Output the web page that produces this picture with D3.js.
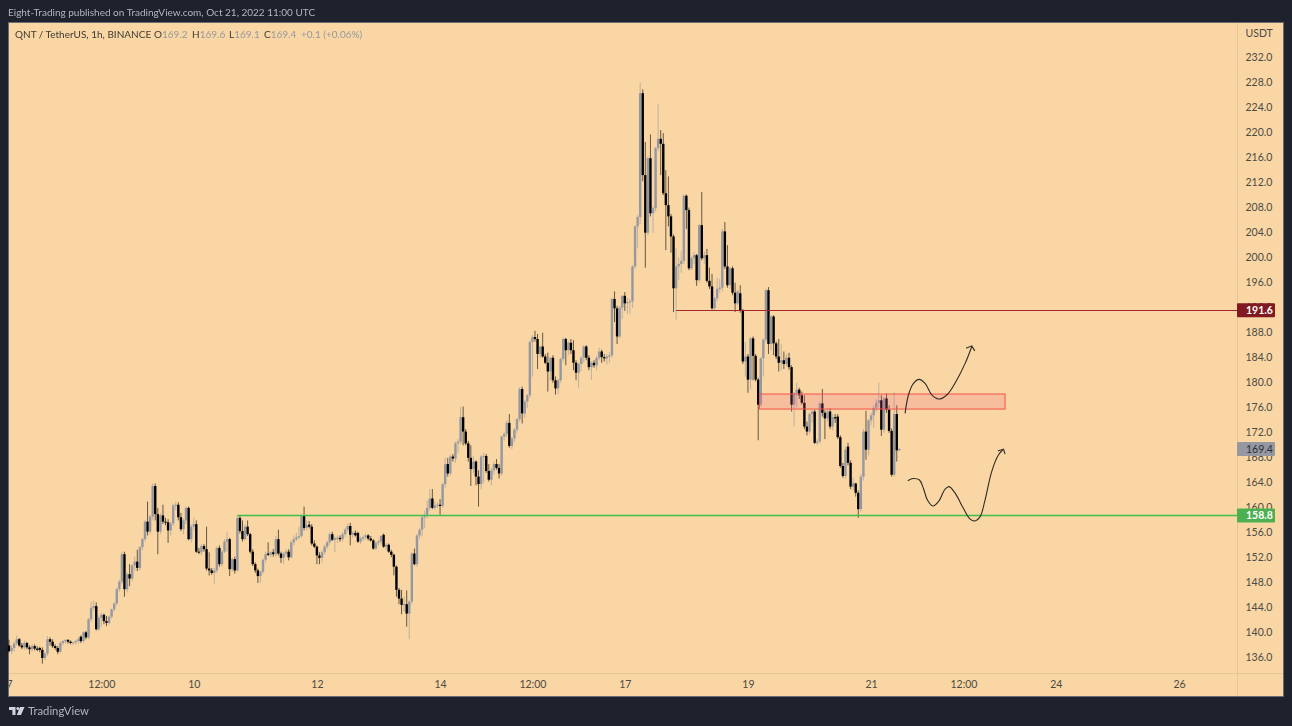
<!DOCTYPE html>
<html>
<head>
<meta charset="utf-8">
<script src="https://cdn.jsdelivr.net/npm/d3@7"></script>
<style>
html,body{margin:0;padding:0;background:#1e222d;overflow:hidden}
svg{filter:blur(.3px)}
text{font-family:Lato,sans-serif;font-size:10px}
</style>
</head>
<body>
<svg id="chart" width="1292" height="726"></svg>
<script>
// one value per hour, first bar is Oct 7 00:00
const opens = [
138,137.1,137.6,138.3,139,138,137.7,138.4,137.7,137.4,137.9,137.5,137.6,137.3,136,136.7,139,138.6,137.9,137.6,
137,138.4,138.7,138.9,138.6,138.4,138.5,138.7,139.4,138.7,140.1,139.3,142.2,144,144.3,140.6,142.4,142.9,141.9,141.6,
142.6,143.8,144.7,147,148.2,152.6,147,149.4,148.7,150.8,151.4,150.4,153.7,155,157.8,156.2,158.6,163.5,159,156.2,
158.8,157.8,157.7,156.4,157.5,160.4,160.5,158.5,156.6,158,160,155,157,157.4,153,152.9,153.9,153.4,150.3,150,
149.6,150,153.6,151,153,154.6,155,150.2,151.8,150,158.4,156.3,155,157,155.8,153,151,150,149.1,149.8,
151.7,152.7,152.5,152.9,152.6,155,152.7,152,152.7,153,152.1,154.5,155,155.3,155.5,158.7,156.8,157.3,157,154.3,
153.8,152.4,152,152.9,153.8,154.5,155.8,154.9,155.2,155.2,155,155.8,156.5,157.1,155.7,156,156,154.6,155.1,155.3,
155.6,155.1,154.8,153.5,154.4,154.6,155.7,153.8,154.1,153,152.5,150.6,146.9,145.5,144.5,144.6,143.1,145,152.7,151,
155.6,156.5,158.5,158.9,160,161.5,160,160.4,160.5,160.3,163.8,167,165.5,168.2,167.9,170.3,170.6,174.5,172.2,170.3,
168,166.2,167.4,165,163.8,168.2,168.3,165.9,164.5,166,167,166.4,165.5,171.4,171.8,173.6,169.9,171.1,172.5,174.2,
179,175.1,177,178,186.5,187.3,187,184.6,185.8,184.2,183.2,181.8,184,180.4,179.1,180.4,183.8,187,185.2,186.4,
185.2,183.2,181.6,183,184,185.8,184,182.5,183.2,182.8,184,185,184.1,183.9,184.2,184.4,193.4,191.9,187.4,192,
193.9,192.7,192.9,193,198.6,205,206.5,226.3,213.2,204,215.9,207.1,207.9,217.5,219,218.2,210.3,208.4,206.6,203.4,
195.1,198.6,199,199.5,209.9,207.6,198.3,199.9,200.4,196.4,205.2,199.9,200.4,196.3,195.4,191.9,193.5,195,195.2,204.2,
198.6,195.6,198.3,194.4,192.7,194.3,191.5,183.4,184.2,180.5,187.1,184.3,180.5,176.5,183.9,186.9,194.8,186.2,190.6,186.3,
184.2,183.2,183.6,183,184,182.5,176.5,178.3,178.9,178,176.8,173,172.2,175,175.4,170.4,170.6,176.7,175.2,174.3,
175.4,173,174.5,174.6,171.3,166.7,165.1,169.8,167.2,163.4,163.9,162.4,159.8,165,172.2,169.3,174,174.8,176,176.8,
177.2,172.5,177.5,175.7,172.3,165.3,175,169.2]
const highs = [
138.9,138,138.6,139.6,139.2,138.4,138.8,138.6,138,138.2,138.2,137.9,137.8,137.7,136.9,139.5,139.3,139,138.2,137.9,
138.6,138.9,139,139,138.8,138.6,138.9,139.3,139.6,140.3,140.3,142.4,145,145.2,144.9,142.8,143.2,143.1,142.7,142.8,
143.9,144.9,147.2,148.5,153,153,149.7,151,151,152.2,153.3,153.9,155.2,158,161,158.9,163.9,163.9,160,159.2,
160.5,158.4,158.2,157.8,160.7,161,160.9,159.2,158.3,160.2,160.2,157.4,158.4,158,153.6,154.2,154.2,157,152.9,150.4,
150.4,153.8,154,153.2,155,156.2,155.2,152,152.2,158.8,158.8,158,157.4,158,156,153.4,151.3,150.3,150,151.9,
153,154.5,153.1,153.4,155.5,156.5,153,153,153.4,153.4,154.8,155.6,156,157,158.9,160.2,158,157.9,157.4,154.8,
154,152.9,153.2,154.1,154.8,156.1,156.2,155.4,155.6,155.6,156.1,156.8,157.5,157.6,156.3,156.4,156.2,155.4,155.6,155.9,
155.8,155.5,155,154.6,154.9,155.6,155.9,154.4,154.3,153.3,152.7,150.8,147.2,146.9,145.8,146.8,145.2,152.9,153.5,155.8,
156.8,158.8,159.6,161.2,163,163,161,160.9,161.4,164,168,168,168.5,168.6,170.6,171,176.2,176.2,172.6,170.7,
170,168.3,167.6,166,168.4,168.8,168.6,167,166.4,167.4,167.8,167,171.6,172.2,174,175,171.3,172.8,174.4,179.3,
179.4,177.2,178.2,186.8,187.6,188.3,187.8,185.9,188,184.6,184.8,184.1,184.4,181,180.7,184,187.2,187.2,186.6,187,
186.8,183.6,183.2,184.2,186,186,184.4,183.4,183.6,184.2,185.6,185.3,184.6,184.6,184.9,193.6,194.6,192.3,192.3,194,
194.5,193.6,193.4,198.8,205.2,206.8,228,226.9,218.5,216.2,219.7,208.2,217.7,224.5,220.4,219.9,214,213,207,203.7,
201.5,200,201,210.1,210.1,208,200.2,200.9,200.6,205.4,210.5,201,201.4,198.4,197.4,193.7,196.8,196.6,204.6,205.7,
202,198.5,198.6,196,194.9,195.6,191.8,186.5,184.6,187.3,187.4,184.6,180.8,184.1,187.1,195,195.3,190.8,190.8,186.6,
187,186.2,185,184.6,184.8,182.8,178.5,180,179.2,178.6,178,173.8,175.2,175.7,175.7,171,177,179,175.6,175.9,
175.9,175,175,175,171.6,167.2,169.8,170.4,167.6,164.8,164,162.8,165.4,172.6,175.5,174.2,175.2,176.4,177.4,180,
178,177.8,178.3,176.4,172.7,178.5,176.4,169.6]
const lows = [
136.9,136.6,137,138,137.8,137.4,137.3,137.4,136.6,137,137.2,137.1,136.9,135.1,135.6,136.4,138,137.6,137.3,136.6,
136.8,138,138.3,138.3,138.2,138.1,138.2,138.3,138.4,138.5,139,139,141.8,143.6,140.4,140.3,141,141.4,141.1,141.3,
142.3,143.4,144.4,146.6,147.8,145.8,146.5,147.5,148.3,150,149.9,150,153.2,154.6,155.6,155.8,158,158,152.6,155.8,
157.4,157.2,154.4,155.6,157.1,159.6,158,156.3,155.8,157.4,154.8,154.4,156.4,152.8,152.6,152.4,153,150,149.2,149.3,
147.9,149.6,150.6,150.6,152.8,153,149.1,149.8,149.5,149.8,155.9,154.6,154.8,155.5,152.7,150.7,149.6,148,148,149.5,
151.3,152.3,152.1,152.2,152.2,152.4,151.2,151,152.2,151.6,151.9,154,154.7,155,155.2,156.4,156.4,156.7,154,153.6,
151,151,151.2,152.5,153.4,154.1,154.7,152.9,154.4,154.6,154.7,155.4,156.2,154,155.2,155.4,154.4,154.2,154.7,154.9,
154.8,154.6,153.3,153.3,154,154.2,153.6,153.2,152.8,152.1,149.2,145.8,144.6,143,143.4,141,139,144.6,150.8,150.6,
155,155.4,156.8,158.3,159.6,159.8,159.7,160,158.9,160,163.2,165,165.2,167.4,167.2,168.8,170.2,170,170,167.4,
163.5,165.6,163.6,160.2,163,164,165.6,164.2,163.6,165.3,166.1,164.7,165.2,170.8,171.3,169.6,169.4,170.6,172,173.8,
173.5,174.4,176,177.6,181,186.6,182.2,184,184,183,178.6,180.4,180,178.1,178.2,180,183.4,182.8,184.4,184.6,
182,180.4,179.2,181.8,183.2,183.6,182,180.4,182.4,182,183.6,183.2,183.4,182.9,183.2,184,189.7,186.2,187.1,190.2,
191.5,191,190.9,192,198.2,201.5,205.4,212.2,198.4,203.6,206.6,204,207.4,217,213.2,210,201.2,205,200.8,191.3,
190.1,196.4,197.6,199,204.6,198,198,199,195.5,196,199.6,199,196,195,191.7,191.6,193,194.4,194.6,198.2,
195.2,195,194,191.3,192.4,191.2,183,181,178.4,179,180.4,180.2,170.8,176.2,181,186.5,184.6,185.2,184.4,183.8,
181.8,182,182.2,182.6,182.1,175.4,173,176,177.4,176.5,172.6,171.6,171.8,173.6,170.2,170,170.3,174.6,171,173.8,
172.6,172.4,173.6,171,166.4,164.8,164.7,166.8,163,162.8,161.8,158.4,159.4,164.4,167.7,168.4,173.2,172.8,175.4,176,
171.5,172,175.2,172,165,165,167.4,169.1]
const closes = [
137.1,137.6,138.3,139,138,137.7,138.4,137.7,137.4,137.9,137.5,137.3,137.3,136,136.7,139,138.6,137.9,137.6,137,
138.4,138.7,138.9,138.6,138.4,138.5,138.7,139,138.7,140.1,139.3,142.2,144,144.3,140.6,142.4,142.9,141.9,141.6,142.6,
143.8,144.7,147,148.2,152.6,147,149.4,148.7,150.8,151.4,150.4,153.7,155,157.8,156.2,158.6,163.5,159,156.2,158.8,
157.8,157.7,156.4,157.5,160.4,160.5,158.5,156.6,158,160,155,157,157.4,153,152.9,153.9,153.4,150.3,150,149.6,
150,153.6,151,153,154.6,155,150.2,151.8,150,158.4,156.3,155,157,155.8,153,151,150,149.1,149.8,151.7,
152.6,152.5,152.9,152.6,155,152.7,152,152.7,153,152.1,154.5,155,155.3,155.5,158.7,156.8,157.3,157,154.3,153.8,
152.4,152,152.9,153.8,154.5,155.8,154.9,155.2,155.2,155,155.8,156.5,157.1,155.7,156,155.6,154.6,155.1,155.3,155.6,
155.1,154.8,153.5,154.4,154.6,155.5,153.8,154.1,153,152.5,150.6,146.9,145.5,144.5,144.6,143.1,145,152.7,151,155.6,
156.5,158.5,158.9,160,161.5,160,160.4,160.5,160.3,163.8,167,165.5,168.2,167.9,170.3,170.6,174.5,172.2,170.3,168,
166.2,167.4,165,163.8,168.2,168.3,165.9,164.5,166,167,166.4,165.5,171.4,171.8,173.6,169.9,171.1,172.5,174.2,179,
175.1,177,178,186.5,187.3,187,184.6,185.8,184.2,183.2,181.8,184,180.4,179.1,180.4,183.8,187,185.2,186.4,185.2,
183.2,181.6,183,184,185.8,184,182.5,183.2,182.8,184,185,184.1,183.9,184.2,184.4,193.4,191.9,187.4,192,193.9,
192.7,192.9,193,198.6,205,206.5,226.3,213.2,204,215.9,207.1,207.9,217.5,219,218.2,210.3,208.4,206.6,203.4,195.1,
198.6,199,199.5,209.9,207.6,198.3,199.9,200.4,196.4,205.2,199.9,200.4,196.3,195.4,191.9,193.5,195,195.2,204.2,198.6,
195.6,198.3,194.4,192.7,194.6,191.5,183.4,184.2,180.5,187.1,184.3,180.5,176.5,183.9,186.9,194.8,186.2,190.6,186.3,184.2,
183.2,183.6,183,184,182.5,176.5,178.3,178.9,178,176.8,173,172.2,175,175.4,170.4,170.6,176.7,175.2,174.3,175.4,
173,174.5,174.3,171.3,166.7,165.1,169.3,167.2,163.4,163.9,162.4,159.8,165,172.2,169.3,174,174.8,176,176.8,177.2,
172.5,177.5,175.7,172.3,165.3,175,169.2,169.4]

const priceTicks = [232,228,224,220,216,212,208,204,200,196,192,188,184,180,176,172,168,164,160,156,152,148,144,140,136]
const timeTickHours = [0,36,72,120,168,204,240,288,336,372,408,456]
const timeTickLabels = ["7","12:00","10","12","14","12:00","17","19","21","12:00","24","26"]

const supportLine = {price:158.8, fromHour:89}
const resistLine = {price:191.6, fromHour:260}
const zone = {fromHour:292.5, toHour:388.2, top:178.2, bottom:175.8}

const upPath = [[349.25,175.1],[350.55,178.05],[352.5,179.9],[354.7,180.55],[357.05,179.9],[359.65,178.05],[362.25,177.4],[365.5,178.05],[369.4,180.45],[372.65,183.1],[375.25,185.8]]
const upHead = [[373,185.5],[375.25,185.9],[376.4,185.1]]
const downPath = [[350.3,164.35],[352.5,164.7],[354.85,164.45],[356.4,163.1],[357.95,161.25],[360.05,160.3],[362.25,161],[364.85,163],[366.4,163.4],[368.75,162.35],[372,159.9],[374.6,158.2],[376.5,157.9],[378.5,158.6],[380.4,161.25],[383,165.8],[385.6,168.45],[387.3,169.25]]
const downHead = [[385.4,169.1],[387.6,169.4],[388.2,168.6]]

const legendValues = [["O","169.2",154],["H","169.6",192],["L","169.1",229],["C","169.4",264]]

const bg = "#f9d6a3"
const upColor = "#9598a1"
const downColor = "#000000"

const svg = d3.select("#chart")
const box = {left:9, right:1283, top:23, bottom:696, axisX:1237.5, axisY:673.5}

const x = d3.scaleLinear().domain([0,456]).range([9,1179])
const y = d3.scaleLinear().domain([136,232]).range([658,57.5])
const snap = v=>Math.round(v)+.5

svg.append("defs").append("clipPath").attr("id","boxClip")
    .append("rect").attr("x",box.left).attr("y",box.top).attr("width",box.right-box.left).attr("height",box.bottom-box.top)

svg.append("rect").attr("x",box.left-.5).attr("y",box.top-.5)
    .attr("width",box.right-box.left+1).attr("height",box.bottom-box.top+1)
    .attr("fill",bg).attr("stroke","#6a6c72")

// axis separators
svg.append("line").attr("x1",box.axisX).attr("x2",box.axisX).attr("y1",box.top).attr("y2",box.bottom).attr("stroke","#e6c596")
svg.append("line").attr("x1",box.left).attr("x2",box.right).attr("y1",box.axisY).attr("y2",box.axisY).attr("stroke","#e6c596")

const plot = svg.append("g")

// candles
closes.forEach((c,i)=>{
    const up = c >= opens[i]
    const top = y(Math.max(opens[i],c))
    const bottom = y(Math.min(opens[i],c))
    plot.append("line")
        .attr("x1",x(i)).attr("x2",x(i))
        .attr("y1",y(highs[i])).attr("y2",y(lows[i]))
        .attr("stroke",up ? upColor : downColor)
        .attr("stroke-opacity",.6)
    plot.append("rect")
        .attr("x",x(i)-1.2).attr("width",2.4)
        .attr("y",top).attr("height",Math.max(bottom-top,1))
        .attr("fill",up ? upColor : downColor)
})

// drawn lines and zone
plot.append("line")
    .attr("x1",x(supportLine.fromHour)).attr("x2",box.axisX)
    .attr("y1",snap(y(supportLine.price))).attr("y2",snap(y(supportLine.price)))
    .attr("stroke","#3fc04c").attr("stroke-width",1.4)
plot.append("line")
    .attr("x1",x(resistLine.fromHour)).attr("x2",box.axisX)
    .attr("y1",snap(y(resistLine.price))).attr("y2",snap(y(resistLine.price)))
    .attr("stroke","#a5262f")
plot.append("rect")
    .attr("x",x(zone.fromHour)).attr("width",x(zone.toHour)-x(zone.fromHour))
    .attr("y",y(zone.top)).attr("height",y(zone.bottom)-y(zone.top))
    .attr("fill","#f0608a").attr("fill-opacity",.2)
    .attr("stroke","#f4524d")

const curve = d3.line().x(d=>x(d[0])).y(d=>y(d[1])).curve(d3.curveCatmullRom)
const straight = d3.line().x(d=>x(d[0])).y(d=>y(d[1]))
const drawPath = (pts,gen)=>{
    plot.append("path").attr("d",gen(pts)).attr("fill","none").attr("stroke","#2f2c26").attr("stroke-width",1.1)
}
drawPath(upPath,curve)
drawPath(upHead,straight)
drawPath(downPath,curve)
drawPath(downHead,straight)

// price axis
const priceAxis = d3.axisRight(y).tickValues(priceTicks).tickSize(0).tickPadding(0).tickFormat(d3.format(".1f"))
const priceG = svg.append("g").attr("transform",`translate(1245.5,-.5)`).call(priceAxis)
priceG.select(".domain").remove()
priceG.selectAll("text").attr("fill","#4b4a45").attr("x",0).style("font-size","10.5px").style("font-family","Lato,sans-serif")

svg.append("text").attr("x",1245.5).attr("y",37).attr("fill","#4b4a45").style("font-size","10.5px").text("USDT")

// time axis
const timeClip = svg.append("g").attr("clip-path","url(#boxClip)")
const timeAxis = d3.axisBottom(x).tickValues(timeTickHours).tickSize(0).tickPadding(0).tickFormat((d,i)=>timeTickLabels[i])
const timeG = timeClip.append("g").attr("transform",`translate(0,680.5)`).call(timeAxis)
timeG.select(".domain").remove()
timeG.selectAll("text").attr("fill","#4b4a45").style("font-size","10.5px").style("font-family","Lato,sans-serif")

// last price labels
const priceLabel = (price,fill,color,weight)=>{
    const g = svg.append("g").attr("transform",`translate(1237,${y(price)})`)
    g.append("rect").attr("x",0).attr("y",-7).attr("width",38).attr("height",14).attr("rx",1).attr("fill",fill)
    g.append("text").attr("x",9).attr("y",3.7).attr("fill",color).attr("font-weight",weight).style("font-size","10.5px").text(d3.format(".1f")(price))
}
priceLabel(closes[closes.length-1],"#9598a1","#2a2e39","normal")
priceLabel(resistLine.price,"#801922","#ffffff","bold")
priceLabel(supportLine.price,"#4caf50","#ffffff","bold")

// header and legend
svg.append("text").attr("x",8).attr("y",15.5).attr("fill","#b2b5be").text("Eight-Trading published on TradingView.com, Oct 21, 2022 11:00 UTC")
svg.append("text").attr("x",15).attr("y",37.5).attr("fill","#3c3b37").text("QNT / TetherUS, 1h, BINANCE")
legendValues.forEach(d=>{
    const t = svg.append("text").attr("x",d[2]).attr("y",37.5).attr("fill","#3c3b37").text(d[0])
    t.append("tspan").attr("fill","#9598a1").text(d[1])
})
svg.append("text").attr("x",301).attr("y",37.5).attr("fill","#9598a1").text("+0.1 (+0.06%)")

// footer logo
const logo = svg.append("g").attr("transform","translate(9,707)").attr("fill","#d1d4dc")
logo.append("path").attr("d","M0 0H6.5V8H3.4V3H0Z")
logo.append("circle").attr("cx",8.8).attr("cy",1.5).attr("r",1.5)
logo.append("path").attr("d","M11 0H15.5L12 8H7.8Z")
svg.append("text").attr("x",28).attr("y",715).attr("fill","#b2b5be").style("font-size","11.3px").text("TradingView")
</script>
</body>
</html>
